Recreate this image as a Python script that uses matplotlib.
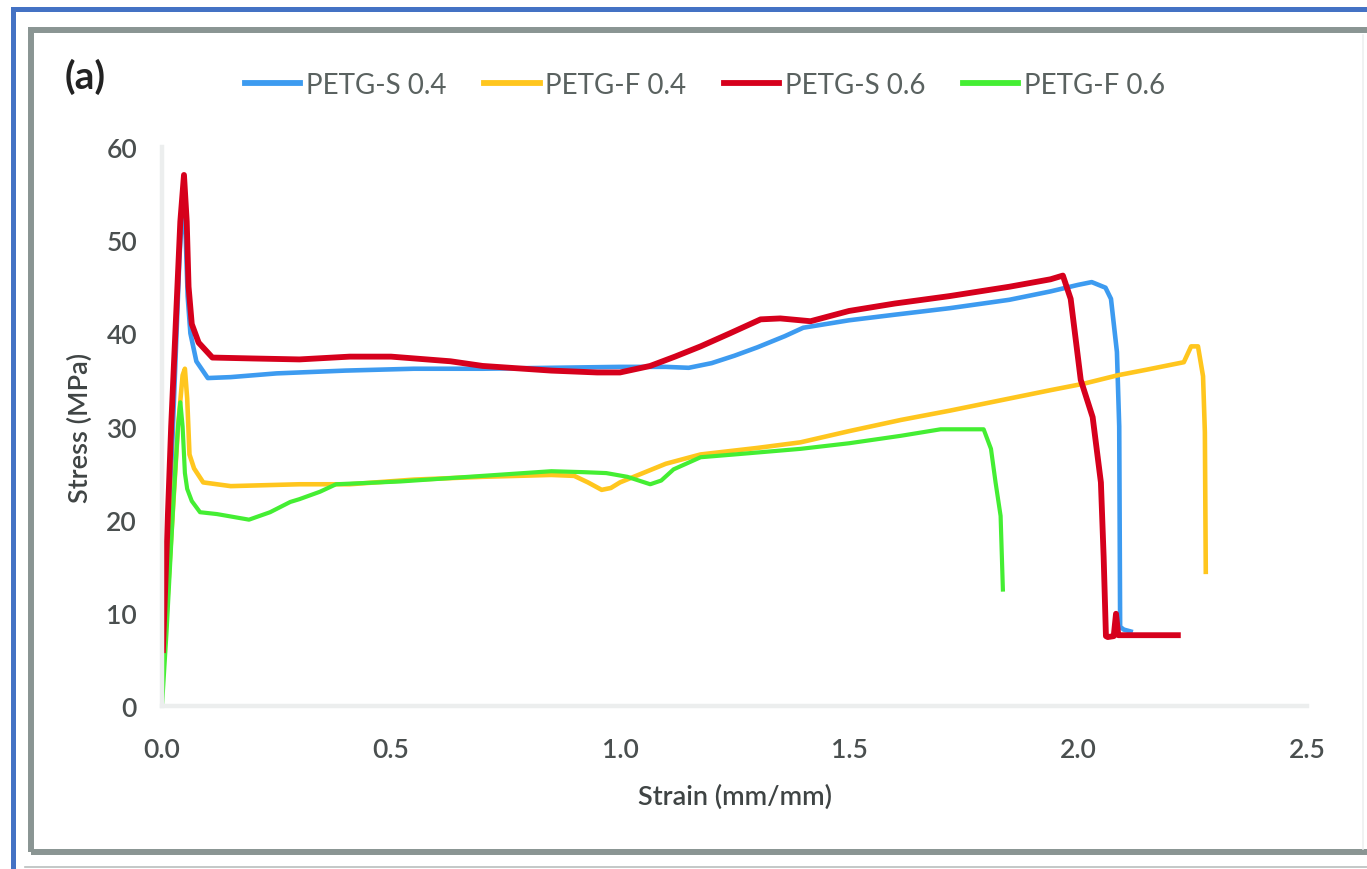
import matplotlib.pyplot as plt
from matplotlib.lines import Line2D
from matplotlib.patches import Rectangle

W, H = 1367, 870

labels = ["PETG-S 0.4", "PETG-F 0.4", "PETG-S 0.6", "PETG-F 0.6"]
colors = ["#3d9bf0", "#ffc61e", "#d6001c", "#44ee33"]

s04_x = [0.003, 0.02, 0.038, 0.046, 0.052, 0.056, 0.062, 0.075, 0.10, 0.15, 0.25, 0.40, 0.55, 0.70,
         0.85, 1.00, 1.10, 1.15, 1.20, 1.25, 1.30, 1.36, 1.40, 1.50, 1.60, 1.72, 1.85, 1.94, 2.00,
         2.03, 2.06, 2.072, 2.085, 2.09, 2.092, 2.10, 2.115]
s04_y = [5, 25, 48, 55, 50, 44, 40, 37, 35.2, 35.3, 35.7, 36.0, 36.2, 36.2, 36.3, 36.4, 36.4, 36.3,
         36.8, 37.6, 38.5, 39.7, 40.6, 41.4, 42.0, 42.7, 43.6, 44.5, 45.2, 45.5, 44.9, 43.7, 38.0,
         30.0, 8.5, 8.2, 8.0]

f04_x = [0.003, 0.02, 0.035, 0.045, 0.05, 0.055, 0.06, 0.07, 0.09, 0.15, 0.30, 0.41, 0.55, 0.70,
         0.85, 0.90, 0.93, 0.96, 0.98, 1.0, 1.05, 1.10, 1.176, 1.30, 1.394, 1.50, 1.613, 1.72, 1.83,
         1.94, 2.013, 2.087, 2.15, 2.231, 2.247, 2.262, 2.273, 2.277, 2.279]
f04_y = [4, 18, 30, 35.5, 36.2, 33, 27, 25.5, 24, 23.6, 23.8, 23.8, 24.3, 24.6, 24.8, 24.7, 24.0,
         23.2, 23.4, 24.0, 25.0, 26.0, 27.0, 27.7, 28.3, 29.5, 30.7, 31.7, 32.8, 33.9, 34.6, 35.5,
         36.1, 36.9, 38.6, 38.6, 35.4, 29.4, 14.4]

s06_x = [0.002, 0.02, 0.04, 0.048, 0.054, 0.058, 0.065, 0.08, 0.11, 0.20, 0.30, 0.41, 0.50, 0.63,
         0.70, 0.85, 0.95, 1.0, 1.066, 1.12, 1.176, 1.24, 1.307, 1.35, 1.416, 1.50, 1.60, 1.72, 1.85,
         1.94, 1.967, 1.984, 2.006, 2.032, 2.05, 2.056, 2.061, 2.065, 2.078, 2.083, 2.088, 2.10, 2.218]
s06_y = [6, 30, 52, 57, 52, 45, 41, 39, 37.4, 37.3, 37.2, 37.5, 37.5, 37.0, 36.5, 36.0, 35.8, 35.8,
         36.5, 37.5, 38.6, 40.0, 41.5, 41.6, 41.3, 42.4, 43.2, 44.0, 45.0, 45.8, 46.2, 43.7, 35.0,
         31.0, 24.0, 16.0, 7.5, 7.4, 7.5, 9.9, 7.6, 7.6, 7.6]

f06_x = [0.0, 0.01, 0.025, 0.035, 0.04, 0.045, 0.05, 0.055, 0.065, 0.083, 0.12, 0.19, 0.236, 0.28,
         0.30, 0.345, 0.38, 0.52, 0.70, 0.85, 0.92, 0.97, 1.016, 1.066, 1.09, 1.117, 1.176, 1.25,
         1.394, 1.50, 1.613, 1.70, 1.794, 1.81, 1.82, 1.831, 1.836]
f06_y = [0, 8, 22, 30, 32.6, 30, 25, 23.3, 22, 20.8, 20.6, 20.0, 20.8, 21.9, 22.2, 23.0, 23.8, 24.1,
         24.7, 25.2, 25.1, 25.0, 24.6, 23.8, 24.2, 25.4, 26.7, 27.0, 27.6, 28.2, 29.0, 29.7, 29.7,
         27.6, 24.0, 20.4, 12.5]

series = [(s04_x, s04_y), (f04_x, f04_y), (s06_x, s06_y), (f06_x, f06_y)]
widths = [3.3, 3.3, 4.2, 3.0]

xticks = [0.0, 0.5, 1.0, 1.5, 2.0, 2.5]
yticks = [0, 10, 20, 30, 40, 50, 60]

plt.rcParams["font.family"] = ["Lato", "DejaVu Sans"]

fig = plt.figure(figsize=(W / 100, H / 100), dpi=100)
ax = fig.add_axes([162 / W, 1 - 707 / H, (1307 - 162) / W, (707 - 148) / H])

# frames around the panel (right and bottom of the blue one fall off the picture)
fig.add_artist(Rectangle((13 / W, -0.05), 1.1, 1 - 9.5 / H + 0.05, transform=fig.transFigure,
                         fill=False, ec="#4472c4", lw=3.6))
fig.add_artist(Rectangle((31 / W, 1 - 853 / H), 1.1, (853 - 31) / H,
                         transform=fig.transFigure, fill=False, ec="#8a9593", lw=4.3))
fig.add_artist(Line2D([1363 / W] * 2, [1 - 850 / H, 1 - 36 / H], transform=fig.transFigure,
                      color="#eef0f0", lw=1.2))
fig.add_artist(Line2D([25 / W, 1], [1 - 868 / H] * 2, transform=fig.transFigure,
                      color="#b9bfbe", lw=1.2))

# draw red last so it sits on top like the original
order = [0, 1, 3, 2]
handles = {}
for i in order:
    x, y = series[i]
    (ln,) = ax.plot(x, y, color=colors[i], lw=widths[i], solid_joinstyle="round", label=labels[i])
    handles[i] = ln

ax.set_xlim(0, 2.5)
ax.set_ylim(0, 60)
ax.set_xticks(xticks)
ax.set_xticklabels([f"{t:.1f}" for t in xticks])
ax.set_yticks(yticks)
for side in ["top", "right"]:
    ax.spines[side].set_visible(False)
for side in ["left", "bottom"]:
    ax.spines[side].set_color("#eceeee")
    ax.spines[side].set_linewidth(3.2)
ax.tick_params(length=0, labelsize=19, labelcolor="#4a4f4f")
ax.tick_params(axis="x", pad=22)
ax.tick_params(axis="y", pad=18)
for lab in ax.get_xticklabels() + ax.get_yticklabels():
    lab.set_fontweight("semibold")

ax.set_xlabel("Strain (mm/mm)", fontsize=19.5, fontweight="semibold", color="#3f4444", labelpad=16)
ax.set_ylabel("Stress (MPa)", fontsize=19.5, fontweight="semibold", color="#3f4444", labelpad=10)

fig.text(65 / W, 1 - 77 / H, "(a)", fontsize=28, fontweight="bold", color="#222222",
         ha="left", va="center")

fig.legend([handles[i] for i in range(4)], labels, loc="center", ncol=4, frameon=False,
           bbox_to_anchor=(705 / W, 1 - 86 / H), fontsize=20, labelcolor="#5a6260",
           handlelength=2.0, handletextpad=0.2, columnspacing=1.35)
for ln in fig.legends[0].get_lines():
    ln.set_linewidth(4.2)

fig.savefig("out.png", dpi=100)
